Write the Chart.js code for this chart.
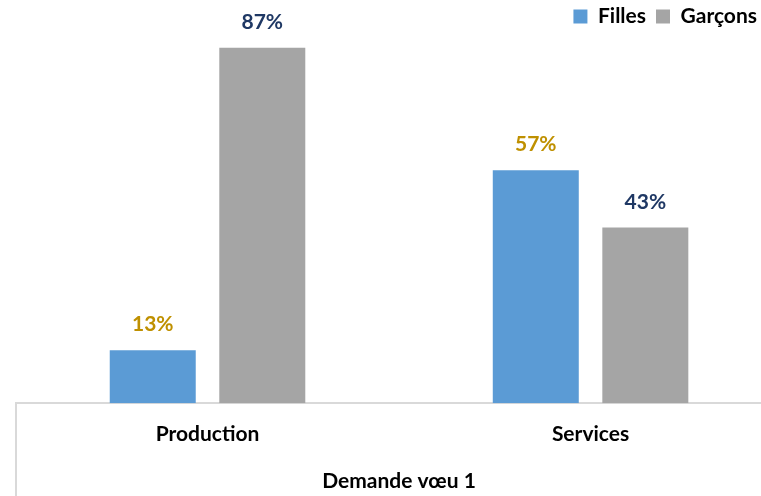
<!DOCTYPE html>
<html>
<head>
<meta charset="utf-8">
<script src="https://cdn.jsdelivr.net/npm/chart.js@4/dist/chart.umd.min.js"></script>
<style>
  html, body { margin: 0; padding: 0; background: #fff; overflow: hidden; }
  #wrap { width: 761px; height: 496px; position: relative; }
</style>
</head>
<body>
<div id="wrap"><canvas id="c" width="761" height="496"></canvas></div>
<script>
const categories = ["Production", "Services"];
const filles = [13, 57];
const garcons = [87, 43];
const seriesNames = ["Filles", "Garçons"];
const axisTitle = "Demande vœu 1";

const FONT = "Lato";
const FS = 21;
const labelColors = ["#BF9000", "#1F3864"];

const labelPlugin = {
  id: "valueLabels",
  afterDatasetsDraw(chart) {
    const ctx = chart.ctx;
    ctx.save();
    ctx.font = "bold " + FS + "px " + FONT;
    ctx.textAlign = "center";
    ctx.textBaseline = "alphabetic";
    chart.data.datasets.forEach((ds, di) => {
      const meta = chart.getDatasetMeta(di);
      ctx.fillStyle = labelColors[di];
      meta.data.forEach((el, i) => {
        const v = ds.data[i].y;
        ctx.fillText(v + "%", el.x, el.y - 19);
      });
    });
    ctx.restore();
  },
  afterDraw(chart) {
    const ctx = chart.ctx;
    const ca = chart.chartArea;
    const xs = chart.scales.x;
    ctx.save();
    ctx.strokeStyle = "#D9D9D9";
    ctx.lineWidth = 2;
    ctx.beginPath();
    ctx.moveTo(ca.left, ca.bottom);
    ctx.lineTo(ca.left, chart.height);
    ctx.stroke();
    ctx.font = "bold " + FS + "px " + FONT;
    ctx.fillStyle = "#000";
    ctx.textAlign = "center";
    ctx.textBaseline = "alphabetic";
    ctx.fillText(axisTitle, xs.getPixelForValue(0.5), 488);
    ctx.restore();
  }
};

new Chart(document.getElementById("c"), {
  type: "bar",
  data: {
    datasets: [
      {
        label: seriesNames[0],
        data: categories.map((c, i) => ({ x: i, y: filles[i] })),
        backgroundColor: "#5B9BD5",
        categoryPercentage: 0.572,
        barPercentage: 0.785
      },
      {
        label: seriesNames[1],
        data: categories.map((c, i) => ({ x: i, y: garcons[i] })),
        backgroundColor: "#A5A5A5",
        categoryPercentage: 0.572,
        barPercentage: 0.785
      }
    ]
  },
  options: {
    responsive: false,
    animation: false,
    devicePixelRatio: 1,
    layout: { padding: { left: 16, right: -6, top: -4, bottom: 31.5 } },
    plugins: {
      tooltip: { enabled: false },
      legend: {
        position: "top",
        align: "end",
        labels: {
          boxWidth: 14,
          boxHeight: 14,
          padding: 10,
          color: "#000",
          font: { family: FONT, size: FS, weight: "bold" }
        }
      }
    },
    scales: {
      x: {
        type: "linear",
        min: -0.5,
        max: 1.445,
        offset: false,
        grid: { display: false, drawTicks: false },
        border: { display: true, color: "#D9D9D9", width: 2 },
        afterBuildTicks(scale) {
          scale.ticks = categories.map((c, i) => ({ value: i }));
        },
        ticks: {
          autoSkip: false,
          maxRotation: 0,
          padding: 18,
          color: "#000",
          font: { family: FONT, size: FS, weight: "bold" },
          callback: (v) => categories[v]
        }
      },
      y: {
        display: false,
        min: 0,
        max: 89.6
      }
    }
  },
  plugins: [labelPlugin]
});
</script>
</body>
</html>
